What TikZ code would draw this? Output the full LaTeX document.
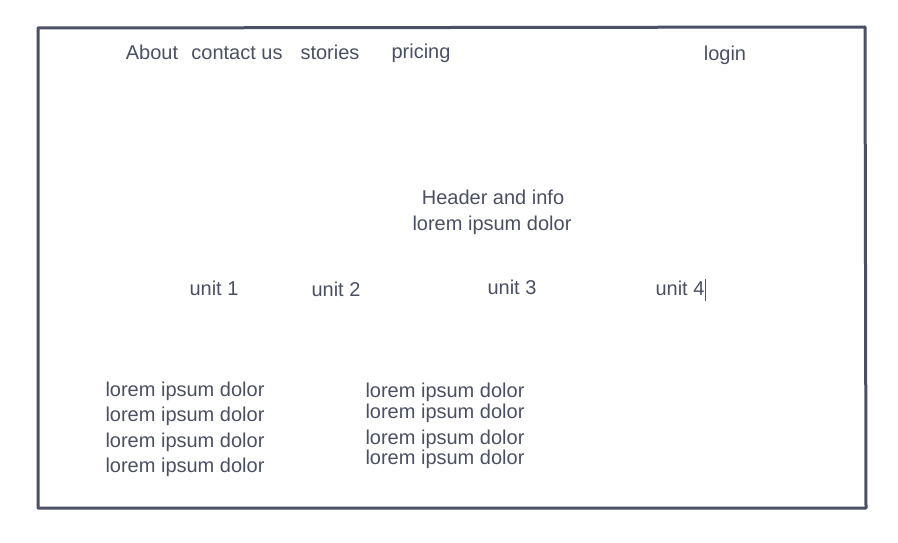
\documentclass[tikz,border=0pt]{standalone}
\usepackage{fontspec}
\setmainfont{Liberation Sans}
\definecolor{ink}{HTML}{4B5066}
\definecolor{inktext}{HTML}{4A4F63}

\begin{document}
\begin{tikzpicture}[x=1pt,y=-1pt,
  txt/.style={text=inktext,font=\fontsize{20}{22}\selectfont,inner sep=0pt,
    text height=14pt,text depth=4pt,anchor=center}]
\useasboundingbox (0,0) rectangle (898,543);
% frame
\draw[ink,line width=3pt,line join=round] (38,28) -- (865,27) -- (866,508) -- (38,508) -- cycle;
% menu
\node[txt] (about) at (152,54.5) {About};
\node[txt] (contact) at (237,54.5) {contact us};
\node[txt] (stories) at (330,54.5) {stories};
\node[txt] (pricing) at (421,53.5) {pricing};
\node[txt] (login) at (725,55.5) {login};
% header
\node[txt] (header) at (493,199.5) {Header and info};
\node[txt] (headinfo) at (492,225.5) {lorem ipsum dolor};
% units
\node[txt] (unitA) at (214,290.5) {unit 1};
\node[txt] (unitB) at (336,291.5) {unit 2};
\node[txt] (unitC) at (512,289.5) {unit 3};
\node[txt] (unitD) at (680,290.5) {unit 4};
\coordinate (caretT) at (705,279);
\coordinate (caretB) at (705,301);
\draw[ink,line width=0.9pt] (caretT) -- (caretB);
% left column
\node[txt] (leftA) at (185,391.5) {lorem ipsum dolor};
\node[txt] (leftB) at (185,416.5) {lorem ipsum dolor};
\node[txt] (leftC) at (185,442.5) {lorem ipsum dolor};
\node[txt] (leftD) at (185,467.5) {lorem ipsum dolor};
% right column
\node[txt] (rightA) at (445,392.5) {lorem ipsum dolor};
\node[txt] (rightB) at (445,413.5) {lorem ipsum dolor};
\node[txt] (rightC) at (445,439.5) {lorem ipsum dolor};
\node[txt] (rightD) at (445,459.5) {lorem ipsum dolor};
\end{tikzpicture}
\end{document}
